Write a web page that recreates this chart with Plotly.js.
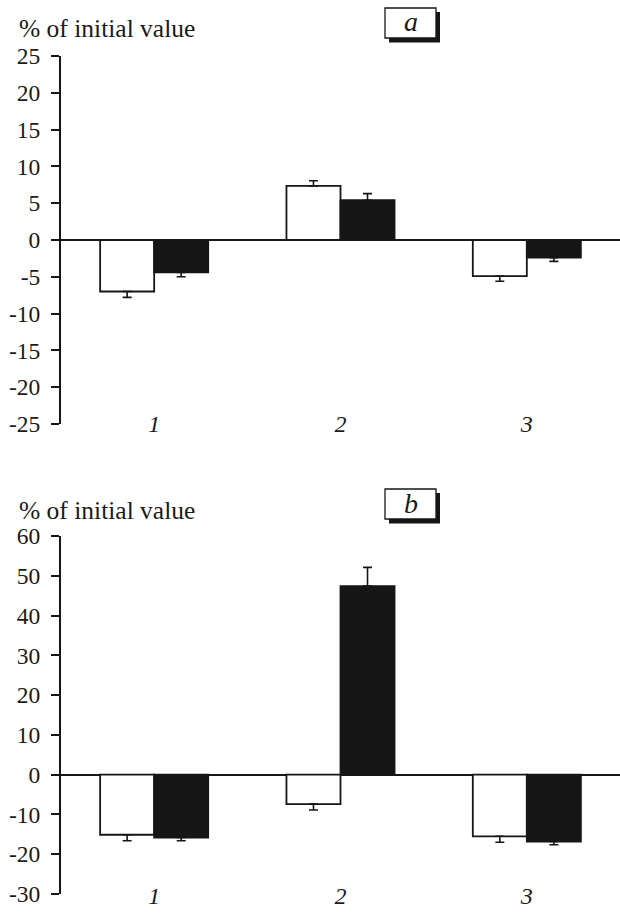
<!DOCTYPE html>
<html>
<head>
<meta charset="utf-8">
<script src="https://cdn.plot.ly/plotly-3.0.1.min.js"></script>
<style>html,body{margin:0;padding:0;background:#fff;}#chart{width:620px;height:918px;}</style>
</head>
<body>
<div id="chart"></div>
<script>
// ---- data ----
var categories = ["1", "2", "3"];
var panelA_open = [-7.0, 7.35, -4.9];
var panelA_open_err = [0.8, 0.7, 0.7];
var panelA_filled = [-4.4, 5.4, -2.4];
var panelA_filled_err = [0.6, 0.9, 0.5];
var panelB_open = [-15.1, -7.4, -15.5];
var panelB_open_err = [1.5, 1.5, 1.5];
var panelB_filled = [-15.8, 47.4, -16.8];
var panelB_filled_err = [0.8, 4.7, 0.8];
var panelA_ticks = [-25, -20, -15, -10, -5, 0, 5, 10, 15, 20, 25];
var panelA_tickText = ["-25", "-20", "-15", "-10", "-5", "0", "5", "10", "15", "20", "25"];
var panelB_ticks = [-30, -20, -10, 0, 10, 20, 30, 40, 50, 60];
var panelB_tickText = ["-30", "-20", "-10", "0", "10", "20", "30", "40", "50", "60"];
var yTitle = "% of initial value";
var panelLabels = ["a", "b"];

// ---- layout helpers (pixel -> paper) ----
var W = 620, H = 918, mL = 61, mR = 0, mT = 56, mB = 24;
var pw = W - mL - mR, ph = H - mT - mB;
function px(x) { return (x - mL) / pw; }
function py(y) { return (H - mB - y) / ph; }

function errUp(vals, errs) { return errs.map(function (e, i) { return vals[i] >= 0 ? e : 0; }); }
function errDown(vals, errs) { return errs.map(function (e, i) { return vals[i] < 0 ? e : 0; }); }

function barTrace(vals, errs, fill, xa, ya) {
  return {
    type: "bar", x: categories, y: vals, xaxis: xa, yaxis: ya,
    marker: { color: fill, line: { color: "#161616", width: 1.8 } },
    error_y: { type: "data", symmetric: false, array: errUp(vals, errs), arrayminus: errDown(vals, errs),
      color: "#161616", thickness: 1.6, width: 4.5 },
    showlegend: false, hoverinfo: "skip"
  };
}

var data = [
  barTrace(panelA_open, panelA_open_err, "#ffffff", "x", "y"),
  barTrace(panelA_filled, panelA_filled_err, "#161616", "x", "y"),
  barTrace(panelB_open, panelB_open_err, "#ffffff", "x2", "y2"),
  barTrace(panelB_filled, panelB_filled_err, "#161616", "x2", "y2")
];

var fontFam = "Liberation Serif";
var tickFont = { family: fontFam, size: 23.5, color: "#1a1a1a" };
var xTickFont = { family: fontFam, size: 24, color: "#1a1a1a", style: "italic" };

function yAxis(domain, range, tv, tt) {
  return {
    domain: domain, range: range, tickmode: "array", tickvals: tv, ticktext: tt,
    showline: true, linecolor: "#161616", linewidth: 2,
    ticks: "outside", ticklen: 8, tickwidth: 2, tickcolor: "#161616",
    showgrid: false, zeroline: true, zerolinecolor: "#161616", zerolinewidth: 2,
    tickfont: tickFont, ticklabelstandoff: 6, fixedrange: true
  };
}
function xAxis(posPx) {
  return {
    type: "category", range: [-0.5, 2.5], domain: [0, 1], anchor: "free", position: py(posPx),
    showline: false, ticks: "", showgrid: false, zeroline: false,
    tickfont: xTickFont, fixedrange: true
  };
}

var ya = yAxis([py(424), 1], [-25, 25], panelA_ticks, panelA_tickText); ya.anchor = "x";
var yb = yAxis([0, py(536)], [-30, 60], panelB_ticks, panelB_tickText); yb.anchor = "x2";

function boxShapes(x0, y0, x1, y1) {
  return [
    { type: "rect", xref: "paper", yref: "paper", x0: px(x0 + 4), x1: px(x1 + 4), y0: py(y1 + 4.5), y1: py(y0 + 4),
      fillcolor: "#161616", line: { width: 0 } },
    { type: "rect", xref: "paper", yref: "paper", x0: px(x0), x1: px(x1), y0: py(y1), y1: py(y0),
      fillcolor: "#ffffff", line: { color: "#161616", width: 1.3 } }
  ];
}

var layout = {
  width: W, height: H, margin: { l: mL, r: mR, t: mT, b: mB, pad: 0 },
  paper_bgcolor: "#ffffff", plot_bgcolor: "rgba(0,0,0,0)",
  font: { family: fontFam },
  barmode: "group", bargap: 0.42, bargroupgap: 0,
  xaxis: xAxis(407), yaxis: ya,
  xaxis2: xAxis(879), yaxis2: yb,
  shapes: boxShapes(385, 8, 436, 38).concat(boxShapes(385, 489, 436, 519)),
  annotations: [
    { text: yTitle, xref: "paper", yref: "paper", x: px(17), y: py(29), xanchor: "left", yanchor: "middle",
      showarrow: false, font: { family: fontFam, size: 25.5, color: "#1a1a1a" } },
    { text: yTitle, xref: "paper", yref: "paper", x: px(17), y: py(510), xanchor: "left", yanchor: "middle",
      showarrow: false, font: { family: fontFam, size: 25.5, color: "#1a1a1a" } },
    { text: panelLabels[0], xref: "paper", yref: "paper", x: px(410.5), y: py(22), xanchor: "center", yanchor: "middle",
      showarrow: false, font: { family: fontFam, size: 28, color: "#1a1a1a", style: "italic" } },
    { text: panelLabels[1], xref: "paper", yref: "paper", x: px(410.5), y: py(503), xanchor: "center", yanchor: "middle",
      showarrow: false, font: { family: fontFam, size: 28, color: "#1a1a1a", style: "italic" } }
  ]
};

Plotly.newPlot("chart", data, layout, { staticPlot: true, displayModeBar: false });
</script>
</body>
</html>
